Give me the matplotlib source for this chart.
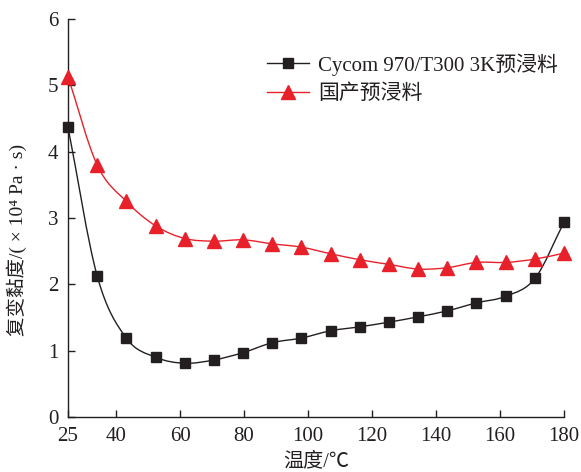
import numpy as np
import matplotlib
matplotlib.use("Agg")
import matplotlib.pyplot as plt
from matplotlib.path import Path
from matplotlib.patches import PathPatch
from matplotlib.lines import Line2D

plt.rcParams['font.family'] = ['Liberation Serif', 'Noto Sans CJK SC', 'DejaVu Sans']

temps = [25, 34.1, 43.2, 52.4, 61.5, 70.6, 79.7, 88.8, 97.9, 107.1,
         116.2, 125.3, 134.4, 143.5, 152.6, 161.8, 170.9, 180]
cycom = [4.37, 2.13, 1.19, 0.90, 0.81, 0.86, 0.97, 1.12, 1.19, 1.30,
         1.36, 1.43, 1.51, 1.60, 1.72, 1.82, 2.09, 2.94]
domestic = [5.13, 3.80, 3.25, 2.88, 2.69, 2.65, 2.67, 2.61, 2.56, 2.46,
            2.37, 2.30, 2.23, 2.25, 2.33, 2.33, 2.38, 2.47]
labels = ['Cycom 970/T300 3K预浸料', '国产预浸料']
xticks = [25, 40, 60, 80, 100, 120, 140, 160, 180]
yticks = [0, 1, 2, 3, 4, 5, 6]

black = '#231f20'
red = '#e8202a'


def smooth_path(x, y):
    x = np.asarray(x, float); y = np.asarray(y, float)
    n = len(x)
    verts = [(x[0], y[0])]
    codes = [Path.MOVETO]
    def tan(i):
        if i == 0:
            return (x[1] - x[0]), (y[1] - y[0])
        if i == n - 1:
            return (x[-1] - x[-2]), (y[-1] - y[-2])
        return (x[i + 1] - x[i - 1]) / 2, (y[i + 1] - y[i - 1]) / 2
    for i in range(n - 1):
        tx0, ty0 = tan(i)
        tx1, ty1 = tan(i + 1)
        verts += [(x[i] + tx0 / 3, y[i] + ty0 / 3),
                  (x[i + 1] - tx1 / 3, y[i + 1] - ty1 / 3),
                  (x[i + 1], y[i + 1])]
        codes += [Path.CURVE4] * 3
    return Path(verts, codes)


fig = plt.figure(figsize=(5.81, 4.72), dpi=100)
ax = fig.add_axes([0.117, 0.1165, 0.854, 0.8435])

ax.add_patch(PathPatch(smooth_path(temps, cycom), fill=False, edgecolor=black, lw=1.0, zorder=2))
ax.add_patch(PathPatch(smooth_path(temps, domestic), fill=False, edgecolor=red, lw=1.0, zorder=2))
ax.plot(temps, cycom, ls='none', marker='s', ms=7, color=black, zorder=3, clip_on=False)
ax.plot(temps, domestic, ls='none', marker='^', ms=10, color=red, zorder=3, clip_on=False)

ax.set_xlim(25, 180)
ax.set_ylim(0, 6)
ax.set_xticks(xticks)
ax.set_yticks(yticks)
ax.tick_params(direction='in', length=5, width=1, labelsize=15, colors='#231f20')
ax.tick_params(axis='x', pad=7)
ax.tick_params(axis='y', pad=7)
for s in ['top', 'right']:
    ax.spines[s].set_visible(False)
for s in ['left', 'bottom']:
    ax.spines[s].set_linewidth(1.0)
    ax.spines[s].set_color('#231f20')

ax.set_xlabel('温度/℃', fontsize=14.5, color='#231f20')
ax.xaxis.set_label_coords(0.5, -0.088)
ax.set_ylabel('复变黏度/( × 10⁴ Pa · s)', fontsize=14, color='#231f20')
ax.yaxis.set_label_coords(-0.083, 0.445)

handles = [Line2D([], [], color=black, lw=1.0, marker='s', ms=7),
           Line2D([], [], color=red, lw=1.0, marker='^', ms=10)]
ax.legend(handles, labels, loc='upper left', bbox_to_anchor=(0.385, 0.935), frameon=False,
          fontsize=15, handlelength=2.0, handletextpad=0.45, labelspacing=0.42,
          labelcolor='#231f20', borderaxespad=0)

fig.savefig('out.png', dpi=100)
